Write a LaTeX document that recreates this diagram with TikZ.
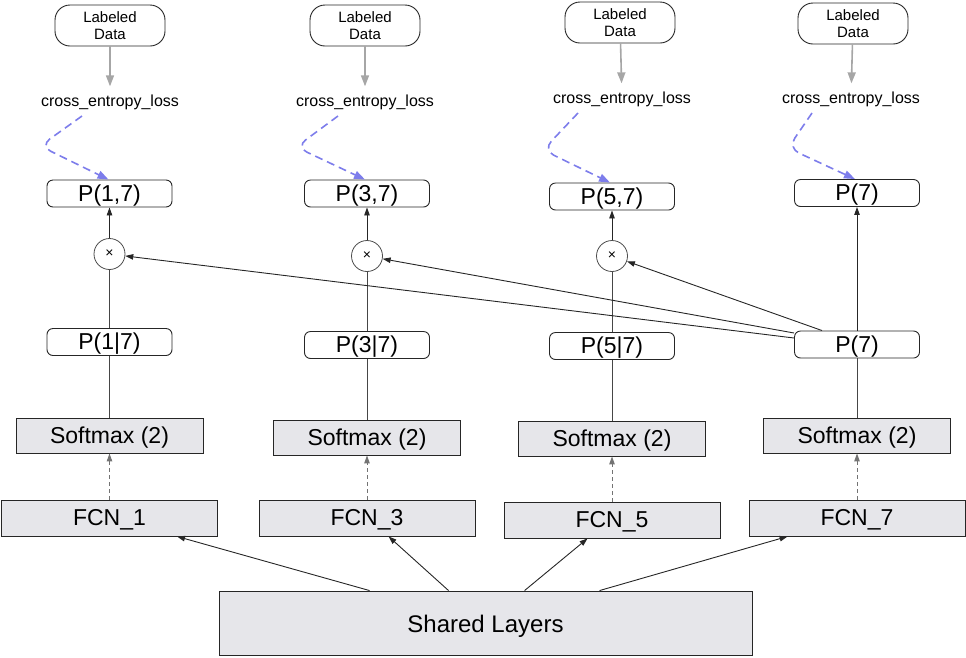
\documentclass[tikz,border=0pt]{standalone}
\usepackage{fontspec}
\setmainfont{Liberation Sans}
\usetikzlibrary{arrows.meta,calc}
\definecolor{boxgray}{RGB}{230,230,234}
\definecolor{bluedash}{RGB}{125,125,235}
\definecolor{linegray}{RGB}{70,70,70}
\begin{document}
\begin{tikzpicture}[x=1pt,y=-1pt,
  big/.style={font=\fontsize{23}{27}\selectfont, text height=19.5pt, text depth=4pt},
  graybox/.style={draw=black!85, line width=0.9pt, fill=boxgray, inner sep=0pt, big},
  smbox/.style={graybox, minimum width=187pt, minimum height=35pt},
  fcnbox/.style={graybox, minimum width=216pt, minimum height=36pt},
  pbox/.style={draw=black!85, line width=0.9pt, fill=white, rounded corners=6pt, minimum width=125pt, minimum height=27pt, inner sep=0pt, big},
  ldbox/.style={draw=black!85, line width=0.9pt, fill=white, rounded corners=15pt, minimum width=110pt, minimum height=41pt, inner sep=0pt, align=center, font=\fontsize{15}{17}\selectfont},
  celbl/.style={font=\fontsize{16}{18}\selectfont, inner sep=2pt},
  mult/.style={circle, draw=black!70, line width=0.8pt, fill=white, minimum size=31pt, inner sep=0pt, font=\fontsize{14}{14}\selectfont},
  conn/.style={draw=linegray, line width=0.9pt},
  arr/.style={draw=black!85, line width=0.9pt, -{Triangle[length=8pt,width=5.5pt]}},
  dasharr/.style={draw=black!55, line width=1pt, dash pattern=on 4pt off 3pt, -{Triangle[length=8pt,width=5.5pt]}},
  grayarr/.style={draw=black!35, line width=1.6pt, shorten >=6pt, -{Triangle[length=11pt,width=8pt]}},
  bluecurve/.style={draw=bluedash, line width=1.6pt, dash pattern=on 8pt off 5pt, rounded corners=12pt, -{Triangle[length=11pt,width=8pt]}},
]
\useasboundingbox (0,0) rectangle (966,657);

% Column 1
\node[ldbox] (ld1) at (110,25.5) {Labeled\\Data};
\node[celbl] (cel1) at (110,102) {cross\_entropy\_loss};
\node[pbox] (p17) at (109.5,193.5) {P(1,7)};
\node[mult] (x1) at (109.5,254) {×};
\node[pbox] (pc1) at (109.5,342) {P(1|7)};
\node[smbox] (sm1) at (109.5,435.5) {Softmax (2)};
\node[fcnbox] (fcn1) at (109.5,518) {FCN\_1};

% Column 2
\node[ldbox] (ld2) at (365,25.5) {Labeled\\Data};
\node[celbl] (cel2) at (365,102) {cross\_entropy\_loss};
\node[pbox] (p37) at (367,193.5) {P(3,7)};
\node[mult] (x3) at (367,256) {×};
\node[pbox] (pc3) at (367,345) {P(3|7)};
\node[smbox] (sm3) at (367,437.5) {Softmax (2)};
\node[fcnbox] (fcn3) at (367,518) {FCN\_3};

% Column 3
\node[ldbox] (ld3) at (620,22.5) {Labeled\\Data};
\node[celbl] (cel3) at (622,99) {cross\_entropy\_loss};
\node[pbox] (p57) at (612,196.5) {P(5,7)};
\node[mult] (x5) at (612,256) {×};
\node[pbox] (pc5) at (612,346) {P(5|7)};
\node[smbox] (sm5) at (612,438.5) {Softmax (2)};
\node[fcnbox] (fcn5) at (612,520) {FCN\_5};

% Column 4
\node[ldbox] (ld4) at (853,23.5) {Labeled\\Data};
\node[celbl] (cel4) at (851,99) {cross\_entropy\_loss};
\node[pbox] (p7t) at (857,193) {P(7)};
\node[pbox] (p7b) at (857,344.5) {P(7)};
\node[smbox] (sm7) at (857,435.5) {Softmax (2)};
\node[fcnbox] (fcn7) at (857,518) {FCN\_7};

% Shared
\node[graybox, minimum width=533pt, minimum height=64pt, font=\fontsize{24}{28}\selectfont, text height=22pt, text depth=4pt] (sh) at (485.5,623) {Shared Layers};

% Labeled data -> loss
\foreach \i in {1,2,3,4} {
  \draw[grayarr] (ld\i) -- (cel\i);
}

% blue dashed curves
\coordinate (cs1) at (82,116);  \coordinate (k1) at (40,146);
\coordinate (cs2) at (338,116); \coordinate (k2) at (296,147);
\coordinate (cs3) at (578,113); \coordinate (k3) at (543,150);
\coordinate (cs4) at (812,113); \coordinate (k4) at (788,148);
\draw[bluecurve] (cs1) -- (k1) -- ([xshift=-1pt]p17.north);
\draw[bluecurve] (cs2) -- (k2) -- ([xshift=-2pt]p37.north);
\draw[bluecurve] (cs3) -- (k3) -- ([xshift=-2pt]p57.north);
\draw[bluecurve] (cs4) -- (k4) -- ([xshift=-2pt]p7t.north);

% vertical chains
\foreach \f/\s/\c/\x/\p in {fcn1/sm1/pc1/x1/p17, fcn3/sm3/pc3/x3/p37, fcn5/sm5/pc5/x5/p57} {
  \draw[dasharr] (\f) -- (\s);
  \draw[conn] (\s) -- (\c);
  \draw[conn] (\c) -- (\x);
  \draw[arr] (\x) -- (\p);
}
\draw[dasharr] (fcn7) -- (sm7);
\draw[conn] (sm7) -- (p7b);
\draw[arr] (p7b) -- (p7t);

% P(7) -> multipliers
\draw[arr] ([yshift=6.5pt]p7b.west) -- (x1);
\draw[arr] ([yshift=11.5pt]p7b.west) -- (x3);
\draw[arr] ([xshift=28pt]p7b.north west) -- (x5);

% Shared -> FCNs
\draw[arr] ([xshift=151pt]sh.north west) -- ([xshift=176pt]fcn1.south west);
\draw[arr] ([xshift=230pt]sh.north west) -- ([xshift=130pt]fcn3.south west);
\draw[arr] ([xshift=306pt]sh.north west) -- ([xshift=84pt]fcn5.south west);
\draw[arr] ([xshift=381pt]sh.north west) -- ([xshift=39pt]fcn7.south west);
\end{tikzpicture}
\end{document}
